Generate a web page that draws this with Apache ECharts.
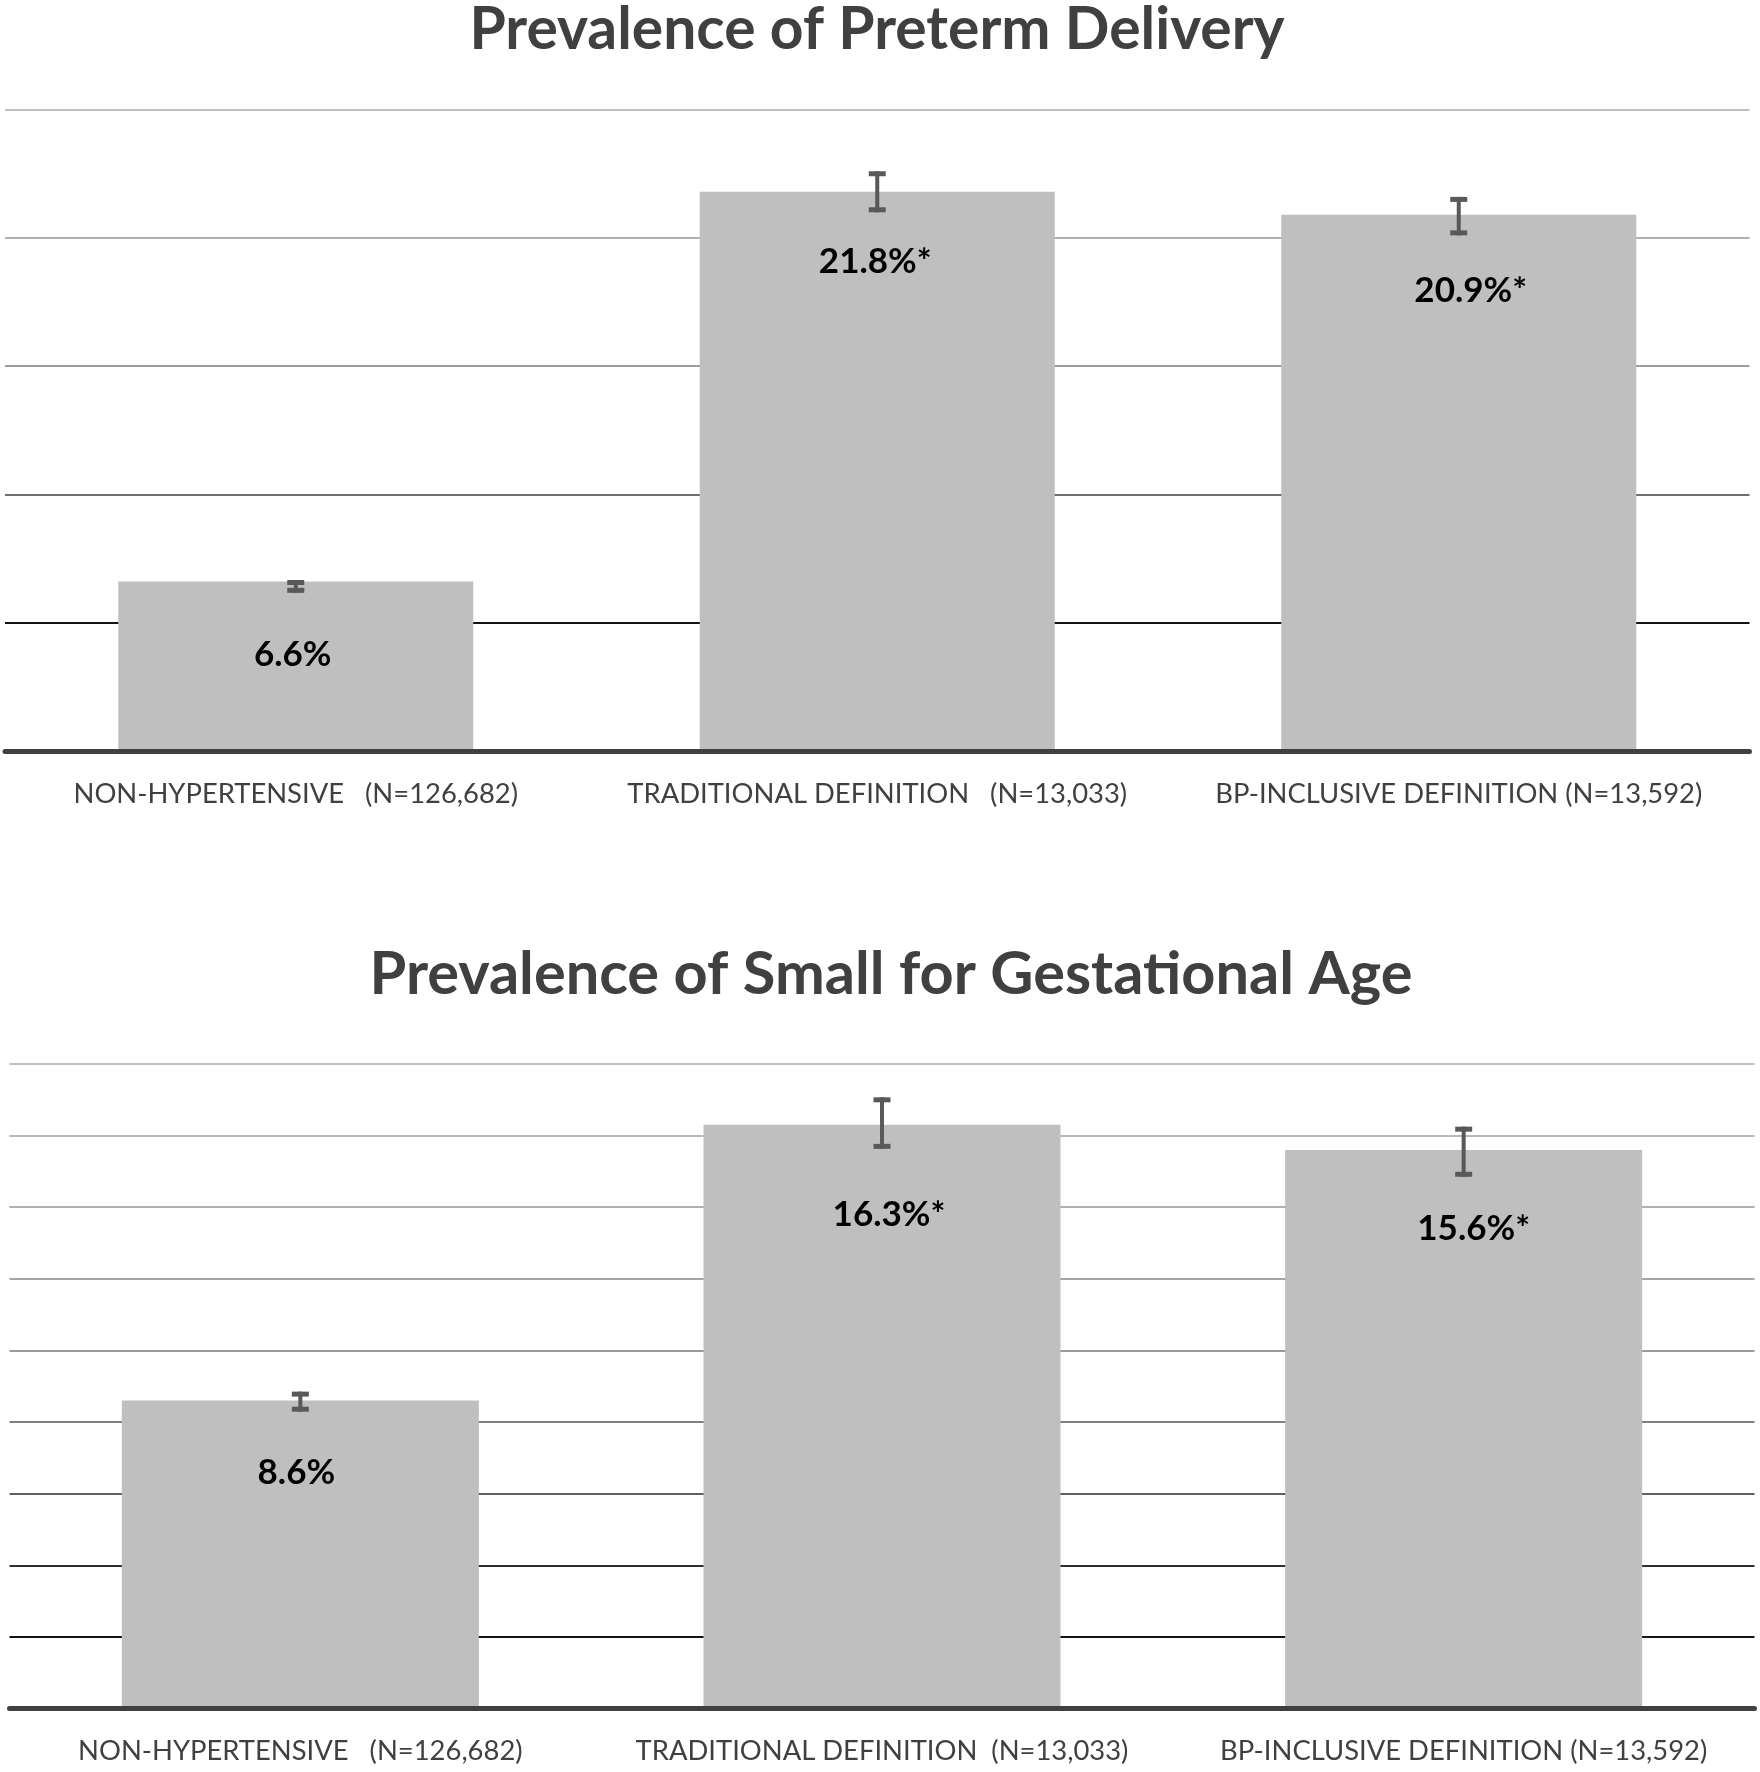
<!DOCTYPE html>
<html>
<head>
<meta charset="utf-8">
<script src="https://cdn.jsdelivr.net/npm/echarts@6/dist/echarts.min.js"></script>
<style>
  html, body { margin: 0; padding: 0; background: #ffffff; }
  #chart { width: 1760px; height: 1772px; }
</style>
</head>
<body>
<div id="chart"></div>
<script>
// ---------- data ----------
const titles = ['Prevalence of Preterm Delivery', 'Prevalence of Small for Gestational Age'];

const categoriesTop = ['NON-HYPERTENSIVE   (N=126,682)', 'TRADITIONAL DEFINITION   (N=13,033)', 'BP-INCLUSIVE DEFINITION (N=13,592)'];
const categoriesBottom = ['NON-HYPERTENSIVE   (N=126,682)', 'TRADITIONAL DEFINITION  (N=13,033)', 'BP-INCLUSIVE DEFINITION (N=13,592)'];

const pretermValues = [6.6, 21.8, 20.9];
const pretermErrLow = [6.16, 21.0, 20.1];
const pretermErrHigh = [6.66, 22.6, 21.6];

const sgaValues = [8.6, 16.3, 15.6];
const sgaErrLow = [8.29, 15.63, 14.85];
const sgaErrHigh = [8.85, 17.07, 16.25];

const significance = ['', '*', '*'];

const yTop = { min: 0, max: 25, interval: 5 };
const yBottom = { min: 0, max: 18, interval: 2 };

// ---------- styles (not data) ----------
const labelGapTop = [56, 52, 58];
const labelGapBottom = [55, 72, 61];
const labelShiftTop = [-3, -2, 12];
const labelShiftBottom = [-4, 7, 10];
const splitColorsTop = ['#404040', '#141414', '#6e6e6e', '#9c9c9c', '#b0b0b0', '#c0c0c0'];
const splitColorsBottom = ['#404040', '#141414', '#303030', '#606060', '#808080', '#9a9a9a', '#a6a6a6', '#b0b0b0', '#b8b8b8', '#c0c0c0'];

const FONT = 'Lato';
const BAR_COLOR = '#bfbfbf';
const ERR_COLOR = '#595959';
const TEXT_GRAY = '#404040';

function barData(values, gaps, shifts) {
  return values.map((v, i) => ({
    value: v,
    label: { distance: gaps[i], offset: [shifts[i], 0], formatter: v.toFixed(1) + '%' + significance[i] }
  }));
}

function errData(lo, hi) {
  return lo.map((l, i) => [i, l, hi[i]]);
}

function renderErr(params, api) {
  const x = api.value(0);
  const pLo = api.coord([x, api.value(1)]);
  const pHi = api.coord([x, api.value(2)]);
  const hw = 8.5, cap = 5, stem = 4;
  const style = { fill: ERR_COLOR };
  return {
    type: 'group',
    children: [
      { type: 'rect', shape: { x: pLo[0] - stem / 2, y: pHi[1], width: stem, height: pLo[1] - pHi[1] }, style: style },
      { type: 'rect', shape: { x: pLo[0] - hw, y: pHi[1], width: hw * 2, height: cap }, style: style },
      { type: 'rect', shape: { x: pLo[0] - hw, y: pLo[1] - cap, width: hw * 2, height: cap }, style: style }
    ]
  };
}

function xAxisCfg(gridIndex, cats, margin) {
  return {
    type: 'category', gridIndex: gridIndex, data: cats,
    axisLine: { show: true, lineStyle: { color: '#404040', width: 5 } },
    axisTick: { show: false },
    axisLabel: { fontFamily: FONT, fontSize: 27.4, color: TEXT_GRAY, margin: margin, interval: 0 },
    z: 5
  };
}

function yAxisCfg(gridIndex, cfg, colors) {
  return {
    type: 'value', gridIndex: gridIndex, min: cfg.min, max: cfg.max, interval: cfg.interval,
    axisLine: { show: false }, axisTick: { show: false }, axisLabel: { show: false },
    splitLine: { show: true, lineStyle: { color: colors, width: 2 } }
  };
}

function barSeries(idx, values, gaps, shifts, width) {
  return {
    type: 'bar', xAxisIndex: idx, yAxisIndex: idx,
    data: barData(values, gaps, shifts),
    barWidth: width,
    itemStyle: { color: BAR_COLOR },
    label: {
      show: true, position: 'insideTop',
      fontFamily: FONT, fontWeight: 'bold', fontSize: 35, color: '#000000'
    },
    silent: true
  };
}

function errSeries(idx, lo, hi) {
  return {
    type: 'custom', xAxisIndex: idx, yAxisIndex: idx,
    data: errData(lo, hi),
    encode: { x: 0, y: [1, 2] },
    renderItem: renderErr,
    z: 10, silent: true
  };
}

const chart = echarts.init(document.getElementById('chart'), null, { renderer: 'canvas' });
chart.setOption({
  backgroundColor: '#ffffff',
  animation: false,
  title: [
    { text: titles[0], left: 877, top: 1, textAlign: 'center', padding: 0,
      textStyle: { fontFamily: FONT, fontWeight: 'bold', fontSize: 58.8, color: TEXT_GRAY } },
    { text: titles[1], left: 891, top: 945, textAlign: 'center', padding: 0,
      textStyle: { fontFamily: FONT, fontWeight: 'bold', fontSize: 59.5, color: TEXT_GRAY } }
  ],
  grid: [
    { left: 5, top: 109.7, width: 1744.5, height: 641.1 },
    { left: 9.5, top: 1064, width: 1745, height: 644.5 }
  ],
  xAxis: [xAxisCfg(0, categoriesTop, 30), xAxisCfg(1, categoriesBottom, 29)],
  yAxis: [yAxisCfg(0, yTop, splitColorsTop), yAxisCfg(1, yBottom, splitColorsBottom)],
  series: [
    barSeries(0, pretermValues, labelGapTop, labelShiftTop, 355),
    errSeries(0, pretermErrLow, pretermErrHigh),
    barSeries(1, sgaValues, labelGapBottom, labelShiftBottom, 357),
    errSeries(1, sgaErrLow, sgaErrHigh)
  ]
});
</script>
</body>
</html>
